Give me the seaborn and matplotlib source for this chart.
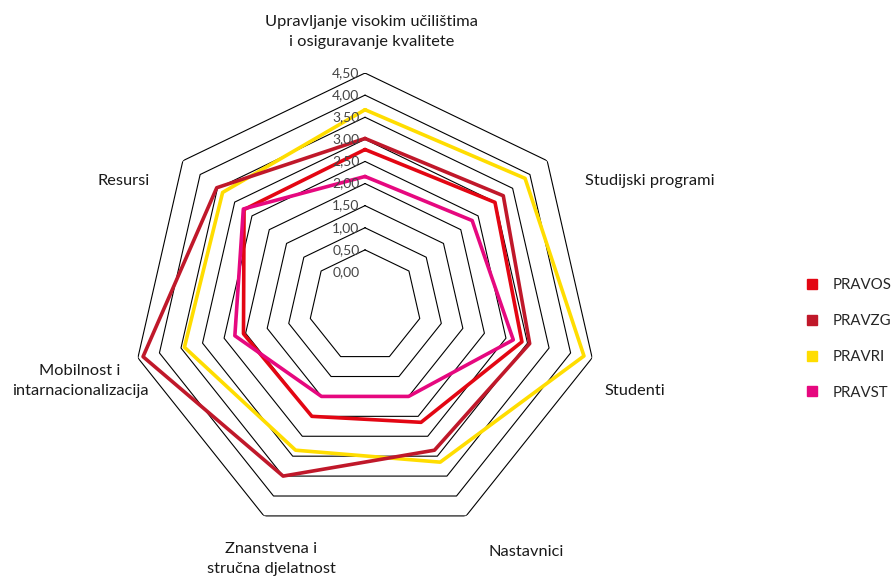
import numpy as np
import pandas as pd
import matplotlib
matplotlib.use("Agg")
import matplotlib.pyplot as plt
from matplotlib.lines import Line2D
import seaborn as sns

# categories (clockwise from the top)
categories = ["Upravljanje visokim učilištima\ni osiguravanje kvalitete",
              "Studijski programi",
              "Studenti",
              "Nastavnici",
              "Znanstvena i\nstručna djelatnost",
              "Mobilnost i\nintarnacionalizacija",
              "Resursi"]

schools = ["PRAVOS", "PRAVZG", "PRAVRI", "PRAVST"]
pravos = [2.77, 2.99, 2.87, 2.15, 2.00, 2.05, 2.73]
pravzg = [3.02, 3.23, 3.05, 2.85, 3.50, 4.38, 3.52]
pravri = [3.67, 3.86, 4.31, 3.15, 2.85, 3.42, 3.35]
pravst = [2.16, 2.33, 2.67, 1.50, 1.50, 2.25, 2.75]

levels = [0.0, 0.5, 1.0, 1.5, 2.0, 2.5, 3.0, 3.5, 4.0, 4.5]
level_labels = ["0,00", "0,50", "1,00", "1,50", "2,00", "2,50", "3,00", "3,50", "4,00", "4,50"]

colors = {"PRAVOS": "#E30613", "PRAVZG": "#C0182A", "PRAVRI": "#FFDD00", "PRAVST": "#E6087F"}

sns.set_style("white")
plt.rcParams['font.family'] = ['Lato', 'DejaVu Sans']

n = len(categories)
theta = np.linspace(0, 2 * np.pi, n, endpoint=False)
theta_closed = np.append(theta, 2 * np.pi)

# long table for seaborn, each loop closed
rows = []
for name, vals in zip(schools, [pravos, pravzg, pravri, pravst]):
    vv = list(vals) + [vals[0]]
    for t, v in zip(theta_closed, vv):
        rows.append({"school": name, "theta": t, "value": v})
df = pd.DataFrame(rows)

fig = plt.figure(figsize=(8.95, 5.8), dpi=100)
ax = fig.add_axes([0.1475, 0.0707, 0.5207, 0.8034], projection='polar')
ax.set_theta_zero_location('N')
ax.set_theta_direction(-1)

# heptagon grid
for lv in levels[1:]:
    ax.plot(theta_closed, [lv] * (n + 1), color='black', lw=0.8, zorder=1)

draw_order = ["PRAVRI", "PRAVOS", "PRAVZG", "PRAVST"]
for name in draw_order:
    sub = df[df["school"] == name]
    sns.lineplot(data=sub, x="theta", y="value", sort=False, estimator=None,
                 color=colors[name], lw=2.6, ax=ax, zorder=3)
ax.set_xlabel("")
ax.set_ylabel("")

ax.set_ylim(0, 4.5)
ax.set_rorigin(-0.77)
ax.grid(False)
for sp in ax.spines.values():
    sp.set_visible(False)
    sp.set_edgecolor('none')
    sp.set_linewidth(0)
ax.patch.set_edgecolor('none')
ax.patch.set_linewidth(0)
ax.set_xticks([])
ax.set_yticks([])

for lv, lab in zip(levels, level_labels):
    ax.annotate(lab, xy=(0, lv), xytext=(-4, 0), textcoords='offset points',
                ha='right', va='center', fontsize=10, color='#444444')

# category labels
txt = dict(fontsize=11.8, color='#1a1a1a')
fig.text(372 / 895, 1 - 32 / 580, categories[0], ha='center', va='center', linespacing=1.6, **txt)
fig.text(585 / 895, 1 - 181 / 580, categories[1], ha='left', va='center', **txt)
fig.text(605 / 895, 1 - 391 / 580, categories[2], ha='left', va='center', **txt)
fig.text(526 / 895, 1 - 552 / 580, categories[3], ha='center', va='center', **txt)
fig.text(271 / 895, 1 - 559 / 580, categories[4], ha='center', va='center', linespacing=1.6, **txt)
fig.text(80 / 895, 1 - 381 / 580, categories[5], ha='center', va='center', linespacing=1.6, **txt)
fig.text(150 / 895, 1 - 181 / 580, categories[6], ha='right', va='center', **txt)

handles = [Line2D([0], [0], marker='s', color='none', markerfacecolor=colors[s],
                  markeredgecolor=colors[s], markersize=7, label=s) for s in schools]
fig.legend(handles=handles, loc='center left', bbox_to_anchor=(0.892, 1 - 339 / 580),
           frameon=False, fontsize=10.8, labelspacing=1.45, handlelength=0.8,
           handletextpad=1.0, borderpad=0)

fig.savefig("out.png", dpi=100)
